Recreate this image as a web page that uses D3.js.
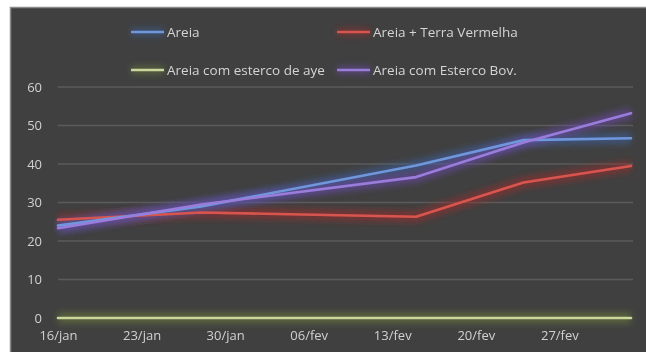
<!DOCTYPE html>
<html>
<head>
<meta charset="utf-8">
<script src="https://cdn.jsdelivr.net/npm/d3@7"></script>
<style>
  html, body { margin: 0; padding: 0; background: #ffffff; }
  svg { display: block; }
  text { font-family: "Open Sans", Lato, sans-serif; fill: #d4d4d4; }
</style>
</head>
<body>
<svg id="chart" width="646" height="352"></svg>
<script>
// Measurement dates (2015) and heights per treatment
const dates = ["2015-01-16", "2015-01-28", "2015-02-15", "2015-02-24", "2015-03-05"];
const areia = [24.0, 29.0, 39.6, 46.2, 46.7];
const areiaTerra = [25.5, 27.4, 26.3, 35.2, 39.5];
const areiaAve = [0, 0, 0, 0, 0];
const areiaBov = [23.3, 29.5, 36.6, 45.6, 53.2];

const seriesNames = ["Areia", "Areia + Terra Vermelha", "Areia com esterco de aye", "Areia com Esterco Bov."];
const seriesColors = ["#6f97dc", "#d8554f", "#c9d79c", "#9a7ddb"];
const glowColors = ["#3d5f9c", "#9a2c2c", "#6a7a3a", "#6a4aa8"];

const tickDates = ["2015-01-16", "2015-01-23", "2015-01-30", "2015-02-06", "2015-02-13", "2015-02-20", "2015-02-27"];
const tickLabels = ["16/jan", "23/jan", "30/jan", "06/fev", "13/fev", "20/fev", "27/fev"];
const yTicks = [0, 10, 20, 30, 40, 50, 60];

const parse = d3.utcParse("%Y-%m-%d");
const W = 646, H = 352;
const FONT = "'Open Sans', Lato, sans-serif";
const svg = d3.select("#chart");

// Chart background panel
svg.append("rect")
  .attr("x", 10.5).attr("y", 7.5)
  .attr("width", 640).attr("height", 350)
  .attr("fill", "#404040")
  .attr("stroke", "#8a8a8a").attr("stroke-width", 1.5);

// Filters use a generous user-space region so flat lines and
// translated text are never clipped
const defs = svg.append("defs");
function addBlur(id, sd) {
  defs.append("filter").attr("id", id)
    .attr("filterUnits", "userSpaceOnUse")
    .attr("x", -W).attr("y", -H).attr("width", 3 * W).attr("height", 3 * H)
    .append("feGaussianBlur").attr("stdDeviation", sd);
}
addBlur("glow", 3);
addBlur("soft", 0.5);

const x = d3.scaleUtc()
  .domain([parse(dates[0]), parse(dates[dates.length - 1])])
  .range([58, 631]);
const y = d3.scaleLinear().domain([0, 60]).range([318, 87]);

// Horizontal gridlines
svg.append("g")
  .selectAll("line")
  .data(yTicks.filter(v => v > 0))
  .join("line")
  .attr("x1", 58).attr("x2", 633)
  .attr("y1", d => y(d)).attr("y2", d => y(d))
  .attr("stroke", "#5b5b5b").attr("stroke-width", 1.3);

// Y axis labels
const yAxis = d3.axisLeft(y).tickValues(yTicks).tickSize(0).tickPadding(0);
const gy = svg.append("g").attr("transform", "translate(42,0)").call(yAxis);
gy.select(".domain").remove();
gy.selectAll("text")
  .attr("font-size", 13).attr("text-anchor", "end")
  .attr("filter", "url(#soft)")
  .style("fill", "#d0d0d0")
  .style("font-family", FONT);

// X axis labels
const xAxis = d3.axisBottom(x)
  .tickValues(tickDates.map(parse))
  .tickFormat((d, i) => tickLabels[i])
  .tickSize(0).tickPadding(0);
const gx = svg.append("g").attr("transform", "translate(0,331)").call(xAxis);
gx.select(".domain").remove();
gx.selectAll("text")
  .attr("font-size", 13)
  .attr("filter", "url(#soft)")
  .style("fill", "#d0d0d0")
  .style("font-family", FONT);

// Series
const allSeries = [areia, areiaTerra, areiaAve, areiaBov];
const line = d3.line()
  .x((d, i) => x(parse(dates[i])))
  .y(d => y(d));

const order = [2, 1, 0, 3];
const lines = svg.append("g");
order.forEach(k => {
  lines.append("path")
    .attr("d", line(allSeries[k]))
    .attr("fill", "none")
    .attr("stroke", glowColors[k])
    .attr("stroke-width", 11)
    .attr("stroke-opacity", 0.6)
    .attr("filter", "url(#glow)");
});
order.forEach(k => {
  lines.append("path")
    .attr("d", line(allSeries[k]))
    .attr("fill", "none")
    .attr("stroke", seriesColors[k])
    .attr("stroke-width", 2.6)
    .attr("stroke-linejoin", "round")
    .attr("stroke-linecap", "round")
    .attr("filter", "url(#soft)");
});

// Legend
const legendPos = [
  { lx: 131, ly: 32 },
  { lx: 337, ly: 32 },
  { lx: 131, ly: 70 },
  { lx: 337, ly: 70 }
];
const legend = svg.append("g");
seriesNames.forEach((name, k) => {
  const p = legendPos[k];
  const g = legend.append("g").attr("transform", `translate(${p.lx},${p.ly})`);
  g.append("line")
    .attr("x1", 0).attr("x2", 33).attr("y1", 0).attr("y2", 0)
    .attr("stroke", glowColors[k]).attr("stroke-width", 8)
    .attr("stroke-opacity", 0.55).attr("filter", "url(#glow)");
  g.append("line")
    .attr("x1", 0).attr("x2", 33).attr("y1", 0).attr("y2", 0)
    .attr("stroke", seriesColors[k]).attr("stroke-width", 2.4)
    .attr("filter", "url(#soft)");
  g.append("text")
    .attr("x", 36).attr("y", 0).attr("dy", "0.35em")
    .attr("font-size", 13.5)
    .attr("filter", "url(#soft)")
    .style("font-family", FONT)
    .text(name);
});
</script>
</body>
</html>
